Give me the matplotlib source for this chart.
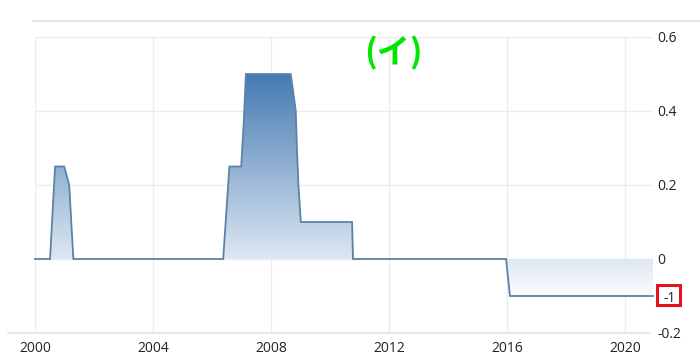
import numpy as np
import matplotlib
matplotlib.use("Agg")
import matplotlib.pyplot as plt
from matplotlib.lines import Line2D
from matplotlib.patches import Rectangle
import matplotlib.transforms as mtransforms

# ---- data ----
years = [2000.0, 2000.51, 2000.68, 2000.99, 2001.16, 2001.30,
         2006.38, 2006.59, 2006.99, 2007.08, 2007.15, 2008.67,
         2008.84, 2008.88, 2008.93, 2009.01, 2010.75, 2010.78,
         2015.97, 2016.10, 2020.95]
values = [0, 0, 0.25, 0.25, 0.2, 0,
          0, 0.25, 0.25, 0.375, 0.5, 0.5,
          0.4, 0.3, 0.2, 0.1, 0.1, 0,
          0, -0.1, -0.1]
x_ticks = [2000, 2004, 2008, 2012, 2016, 2020]
x_labels = ["2000", "2004", "2008", "2012", "2016", "2020"]
y_ticks = [0.6, 0.4, 0.2, 0, -0.1, -0.2]
y_labels = ["0.6", "0.4", "0.2", "0", "-1", "-0.2"]
grid_y = [0.6, 0.4, 0.2, 0]
title = "(イ)"

W, H = 700, 361
fig = plt.figure(figsize=(W / 100, H / 100), dpi=100)
ax = fig.add_axes([35 / W, 1 - 333 / H, 618 / W, (333 - 37) / H])
ax.set_xlim(2000, 2020.95)
ax.set_ylim(-0.2, 0.6)
for s in ax.spines.values():
    s.set_visible(False)

grid_c = "#ececec"
for gy in grid_y:
    ax.axhline(gy, color=grid_c, lw=1, zorder=0)
for gx in x_ticks:
    ax.axvline(gx, color=grid_c, lw=1, zorder=0)

x = np.array(years)
y = np.array(values)

# gradient fill clipped to the area
poly = ax.fill_between(x, y, 0, color="none", lw=0)
top_c = np.array([68, 122, 177]) / 255
bot_c = np.array([252, 253, 255]) / 255
n = 256
t = np.linspace(0, 1, n)[:, None]
grad = (top_c[None, :] * (1 - t) + bot_c[None, :] * t)[:, None, :]
ymax, ymin = max(values), min(values)
im = ax.imshow(grad, extent=[x.min(), x.max(), ymin, ymax], aspect="auto",
               origin="upper", zorder=1, interpolation="bilinear")
path = poly.get_paths()[0]
im.set_clip_path(path, transform=ax.transData)
ax.set_xlim(2000, 2020.95)
ax.set_ylim(-0.2, 0.6)

ax.plot(x, y, color="#5b82a8", lw=1.3, zorder=3, solid_joinstyle="miter",
        clip_on=False)

font = "Open Sans"
ax.set_xticks(x_ticks)
ax.set_xticklabels(x_labels, fontsize=10, family=font, color="#222222")
ax.tick_params(axis="x", length=0, pad=6)
ax.yaxis.tick_right()
ax.set_yticks(y_ticks)
ax.set_yticklabels(y_labels, fontsize=10, family=font, color="#222222")
ax.tick_params(axis="y", length=0, pad=3)

# shift the "-1" label slightly right
for tk in ax.yaxis.get_major_ticks():
    if tk.label2.get_text() == "-1":
        tk.label2.set_transform(tk.label2.get_transform() +
                                mtransforms.ScaledTranslation(6 / 100, 0, fig.dpi_scale_trans))

# frame lines
fig.add_artist(Line2D([33 / W, 1.0], [1 - 20.7 / H] * 2, color="#e4e4e4", lw=1.5,
                      transform=fig.transFigure))
fig.add_artist(Line2D([8 / W, 650 / W], [1 - 333 / H] * 2, color="#e4e4e4", lw=1.2,
                      transform=fig.transFigure))

# red box around "-1"
fig.add_artist(Rectangle((657 / W, 1 - 305 / H), 23 / W, 20 / H, fill=False,
                         edgecolor="#e0141e", lw=2.2, transform=fig.transFigure))

fig.text(393 / W, 1 - 53 / H, title, ha="center", va="center", fontsize=24,
         fontweight="bold", color="#00e600",
         family=["Noto Sans CJK JP", "DejaVu Sans"])

fig.savefig("out.png", dpi=100)
